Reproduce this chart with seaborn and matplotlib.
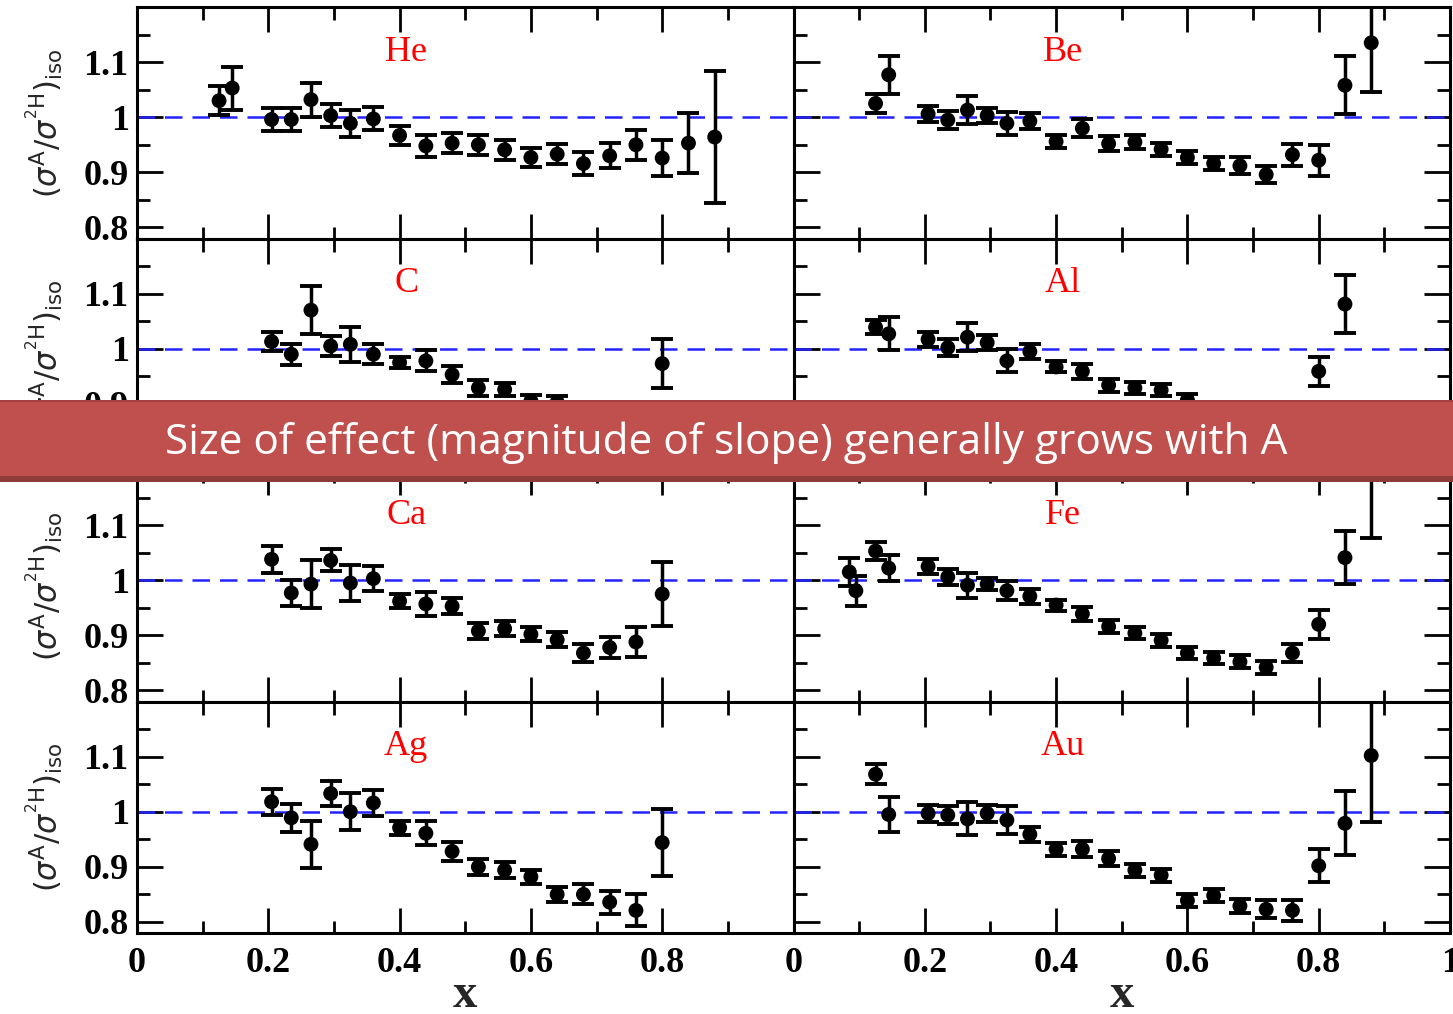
import matplotlib
matplotlib.use('Agg')
import matplotlib.pyplot as plt
import seaborn as sns
import pandas as pd
from matplotlib.patches import Rectangle

# ---------------- data ----------------
nuclei = ['He', 'Be', 'C', 'Al', 'Ca', 'Fe', 'Ag', 'Au']

he_x = [0.125, 0.145, 0.205, 0.235, 0.265, 0.295, 0.325, 0.36, 0.40, 0.44, 0.48,
        0.52, 0.56, 0.60, 0.64, 0.68, 0.72, 0.76, 0.80, 0.84, 0.88]
he_y = [1.030, 1.053, 0.996, 0.996, 1.032, 1.003, 0.989, 0.997, 0.967, 0.948, 0.953,
        0.950, 0.941, 0.927, 0.933, 0.916, 0.930, 0.950, 0.926, 0.953, 0.964]
he_e = [0.026, 0.039, 0.021, 0.021, 0.031, 0.021, 0.025, 0.021, 0.017, 0.020, 0.018,
        0.018, 0.018, 0.018, 0.018, 0.021, 0.023, 0.027, 0.033, 0.055, 0.120]

be_x = [0.125, 0.145, 0.205, 0.235, 0.265, 0.295, 0.325, 0.36, 0.40, 0.44, 0.48,
        0.52, 0.56, 0.60, 0.64, 0.68, 0.72, 0.76, 0.80, 0.84, 0.88]
be_y = [1.025, 1.077, 1.006, 0.995, 1.013, 1.003, 0.989, 0.993, 0.956, 0.980, 0.952,
        0.955, 0.942, 0.927, 0.916, 0.912, 0.896, 0.932, 0.922, 1.058, 1.135]
be_e = [0.018, 0.035, 0.015, 0.017, 0.026, 0.013, 0.021, 0.014, 0.011, 0.016, 0.014,
        0.012, 0.012, 0.012, 0.012, 0.015, 0.015, 0.020, 0.028, 0.053, 0.090]

c_x = [0.205, 0.235, 0.265, 0.295, 0.325, 0.36, 0.40, 0.44, 0.48, 0.52, 0.56,
       0.60, 0.64, 0.68, 0.72, 0.76, 0.80]
c_y = [1.013, 0.990, 1.070, 1.005, 1.008, 0.990, 0.975, 0.978, 0.953, 0.929, 0.926,
       0.905, 0.903, 0.885, 0.875, 0.880, 0.973]
c_e = [0.017, 0.019, 0.044, 0.019, 0.032, 0.018, 0.010, 0.019, 0.015, 0.014, 0.012,
       0.011, 0.012, 0.013, 0.014, 0.016, 0.045]

al_x = [0.125, 0.145, 0.205, 0.235, 0.265, 0.295, 0.325, 0.36, 0.40, 0.44, 0.48,
        0.52, 0.56, 0.60, 0.64, 0.68, 0.72, 0.76, 0.80, 0.84]
al_y = [1.039, 1.027, 1.017, 1.002, 1.021, 1.011, 0.978, 0.995, 0.967, 0.959, 0.934,
        0.929, 0.925, 0.907, 0.888, 0.880, 0.872, 0.878, 0.959, 1.081]
al_e = [0.013, 0.030, 0.014, 0.015, 0.026, 0.014, 0.021, 0.014, 0.010, 0.013, 0.012,
        0.011, 0.011, 0.011, 0.012, 0.013, 0.014, 0.016, 0.026, 0.052]

ca_x = [0.205, 0.235, 0.265, 0.295, 0.325, 0.36, 0.40, 0.44, 0.48, 0.52, 0.56,
        0.60, 0.64, 0.68, 0.72, 0.76, 0.80]
ca_y = [1.038, 0.977, 0.993, 1.036, 0.995, 1.003, 0.962, 0.957, 0.953, 0.908, 0.912,
        0.902, 0.892, 0.868, 0.878, 0.888, 0.975]
ca_e = [0.024, 0.024, 0.043, 0.020, 0.032, 0.023, 0.013, 0.021, 0.015, 0.014, 0.014,
        0.013, 0.014, 0.016, 0.019, 0.028, 0.058]

fe_x = [0.085, 0.095, 0.125, 0.145, 0.205, 0.235, 0.265, 0.295, 0.325, 0.36, 0.40,
        0.44, 0.48, 0.52, 0.56, 0.60, 0.64, 0.68, 0.72, 0.76, 0.80, 0.84, 0.88]
fe_y = [1.015, 0.981, 1.053, 1.022, 1.025, 1.006, 0.991, 0.993, 0.981, 0.971, 0.955,
        0.939, 0.916, 0.904, 0.891, 0.868, 0.859, 0.852, 0.842, 0.868, 0.920, 1.041, 1.195]
fe_e = [0.026, 0.027, 0.016, 0.023, 0.014, 0.015, 0.023, 0.011, 0.017, 0.014, 0.010,
        0.013, 0.012, 0.011, 0.012, 0.010, 0.011, 0.012, 0.012, 0.017, 0.026, 0.048, 0.119]

ag_x = [0.205, 0.235, 0.265, 0.295, 0.325, 0.36, 0.40, 0.44, 0.48, 0.52, 0.56,
        0.60, 0.64, 0.68, 0.72, 0.76, 0.80]
ag_y = [1.018, 0.989, 0.941, 1.033, 1.000, 1.016, 0.971, 0.961, 0.928, 0.900, 0.894,
        0.882, 0.850, 0.850, 0.836, 0.821, 0.944]
ag_e = [0.024, 0.025, 0.043, 0.022, 0.034, 0.024, 0.013, 0.022, 0.017, 0.015, 0.014,
        0.013, 0.013, 0.018, 0.021, 0.029, 0.061]

au_x = [0.125, 0.145, 0.205, 0.235, 0.265, 0.295, 0.325, 0.36, 0.40, 0.44, 0.48,
        0.52, 0.56, 0.60, 0.64, 0.68, 0.72, 0.76, 0.80, 0.84, 0.88]
au_y = [1.068, 0.995, 0.997, 0.994, 0.987, 0.997, 0.985, 0.959, 0.932, 0.932, 0.915,
        0.894, 0.885, 0.839, 0.848, 0.829, 0.823, 0.821, 0.902, 0.979, 1.102]
au_e = [0.018, 0.031, 0.016, 0.016, 0.030, 0.015, 0.025, 0.014, 0.012, 0.015, 0.013,
        0.012, 0.012, 0.012, 0.012, 0.013, 0.016, 0.019, 0.030, 0.058, 0.120]

x_ticks = [0.0, 0.2, 0.4, 0.6, 0.8, 1.0]
x_ticklabels = ['0', '0.2', '0.4', '0.6', '0.8', '1']
y_ticks = [0.8, 0.9, 1.0, 1.1]
y_ticklabels = ['0.8', '0.9', '1', '1.1']
ylabel_text = r'$(\sigma^{\mathrm{A}}/\sigma^{{}^{2}\mathrm{H}})_{\mathrm{iso}}$'
banner_text = 'Size of effect (magnitude of slope) generally grows with A'

series = {
    'He': (he_x, he_y, he_e), 'Be': (be_x, be_y, be_e),
    'C': (c_x, c_y, c_e), 'Al': (al_x, al_y, al_e),
    'Ca': (ca_x, ca_y, ca_e), 'Fe': (fe_x, fe_y, fe_e),
    'Ag': (ag_x, ag_y, ag_e), 'Au': (au_x, au_y, au_e),
}

# ---------------- style ----------------
sns.set_style('ticks')
plt.rcParams['font.family'] = ['Liberation Serif', 'DejaVu Serif']
plt.rcParams['mathtext.fontset'] = 'dejavusans'
plt.rcParams['axes.linewidth'] = 2.2
plt.rcParams['axes.edgecolor'] = 'black'

W, H = 1453, 1014
fig, axes = plt.subplots(4, 2, figsize=(W / 100, H / 100), dpi=100)
ax_left, ax_right, ax_top, ax_bot = 137, 1450, 7, 933
fig.subplots_adjust(left=ax_left / W, right=ax_right / W, top=1 - ax_top / H,
                    bottom=1 - ax_bot / H, wspace=0, hspace=0)

minor_x = [i / 10 for i in range(11)]
minor_y = [0.8 + 0.05 * i for i in range(8)]

for i, name in enumerate(nuclei):
    r, c = divmod(i, 2)
    ax = axes[r, c]
    xs, ys, es = series[name]
    df = pd.DataFrame({'x': xs, 'y': ys, 'err': es})

    ax.axhline(1.0, color='#2323ff', lw=1.8, dashes=(7, 4), zorder=1)
    ax.errorbar(df['x'], df['y'], yerr=df['err'], fmt='none', ecolor='black',
                elinewidth=2.5, capsize=8, capthick=2.8, zorder=3)
    sns.scatterplot(data=df, x='x', y='y', ax=ax, color='black', s=115,
                    marker='o', edgecolor='none', linewidth=0, zorder=4, legend=False)

    ax.set_xlim(0, 1)
    ax.set_ylim(0.78, 1.2)
    ax.set_xlabel('')
    ax.set_ylabel('')

    ax.set_xticks(x_ticks)
    ax.set_xticks(minor_x, minor=True)
    ax.set_yticks(y_ticks)
    ax.set_yticks(minor_y, minor=True)

    if r == 3:
        labs = list(x_ticklabels)
        if c == 0:
            labs[-1] = ''
        ax.set_xticklabels(labs, fontsize=26, fontweight='bold')
    else:
        ax.set_xticklabels([])
    if c == 0:
        ax.set_yticklabels(y_ticklabels, fontsize=26, fontweight='bold')
    else:
        ax.set_yticklabels([])
    ax.set_yticklabels([], minor=True)
    ax.set_xticklabels([], minor=True)

    ax.tick_params(axis='both', which='both', direction='in', top=True, bottom=True,
                   left=True, right=(c == 1), width=2.0, colors='black')
    ax.tick_params(axis='x', which='major', length=18, pad=10)
    ax.tick_params(axis='x', which='minor', length=9)
    ax.tick_params(axis='y', which='major', length=19, pad=6)
    ax.tick_params(axis='y', which='minor', length=9.5)
    for s in ax.spines.values():
        s.set_visible(True)
        s.set_linewidth(2.2)

    ax.text(0.41, 1.118, name, color='red', fontsize=26, ha='center', va='center')

# y labels for each row
row_h = (ax_bot - ax_top) / 4
for r in range(4):
    yc = ax_top + row_h * (r + 0.5)
    fig.text(45 / W, 1 - yc / H, ylabel_text, rotation=90, ha='center', va='center',
             fontsize=22)

# x labels
for c in range(2):
    pos = axes[3, c].get_position()
    fig.text((pos.x0 + pos.x1) / 2, 1 - 1007 / H, 'x', ha='center', va='baseline',
             fontsize=35, fontweight='bold')

# banner overlay
b_top, b_bot = 400, 482
fig.add_artist(Rectangle((0, 1 - b_bot / H), 1, (b_bot - b_top) / H,
                         transform=fig.transFigure, facecolor='#C0504D',
                         edgecolor='none', zorder=20))
fig.add_artist(Rectangle((0, 1 - b_bot / H), 1, 6 / H, transform=fig.transFigure,
                         facecolor='#8E3B39', edgecolor='none', zorder=21))
fig.add_artist(Rectangle((0, 1 - (b_top + 2) / H), 1, 2 / H, transform=fig.transFigure,
                         facecolor='#A34442', edgecolor='none', zorder=21))
fig.text(0.5, 1 - 443 / H, banner_text, color='white', fontsize=30.5,
         family=['Open Sans', 'DejaVu Sans'], ha='center', va='center', zorder=22)

fig.savefig('out.png', dpi=100)
